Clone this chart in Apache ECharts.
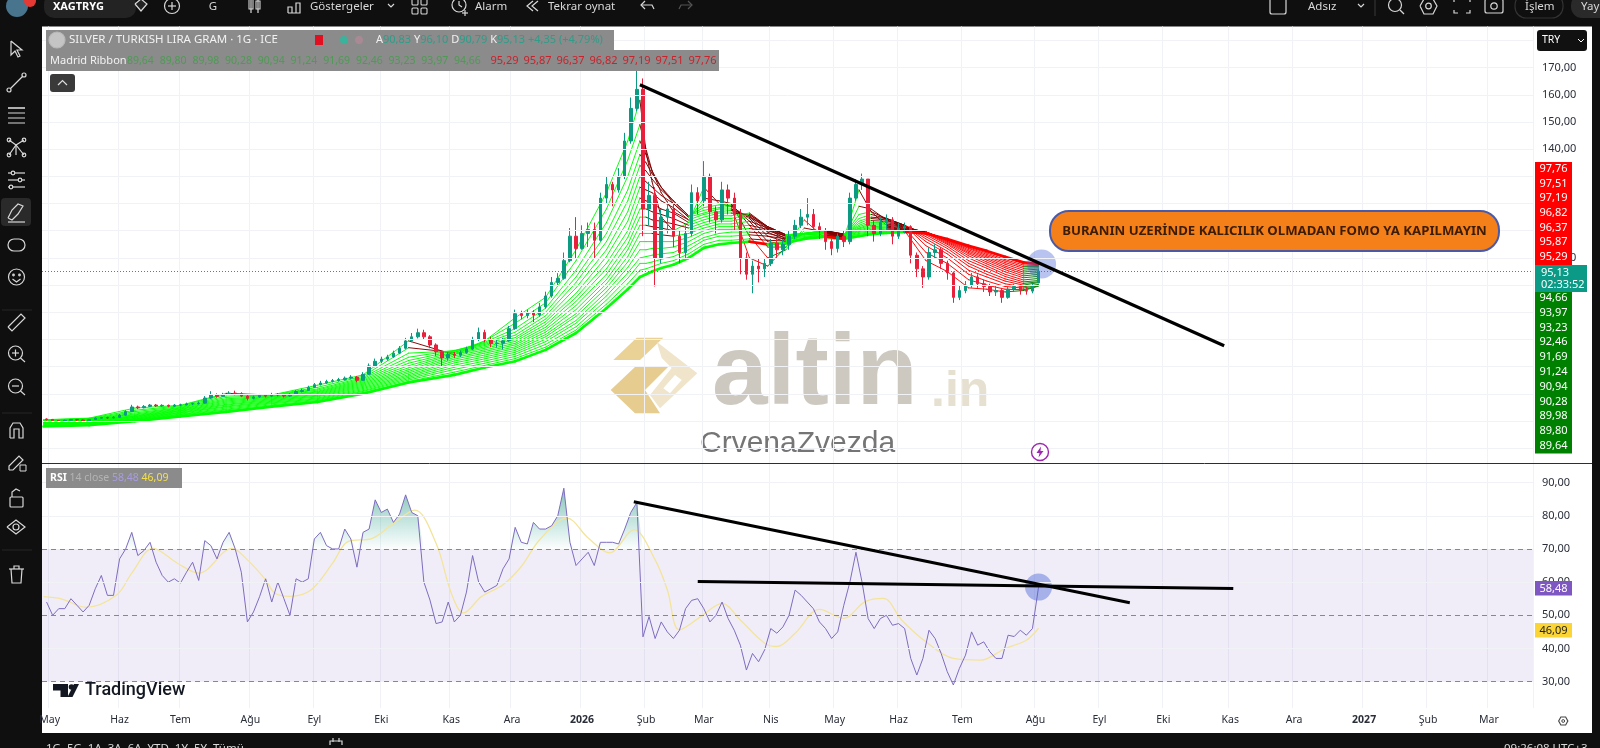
<!DOCTYPE html>
<html><head><meta charset="utf-8">
<style>html,body{margin:0;padding:0;background:#0f0f0f;overflow:hidden}#c{width:1600px;height:748px}</style>
<script src="https://cdn.jsdelivr.net/npm/echarts@6/dist/echarts.min.js"></script></head>
<body><div id="c"></div><script>
const monthBars=[2,25,45,68,89,111,134,154,177,198,217,239,260,281,302,326,347,368,390,411,434,455,475];
const monthLabels=['May','Haz','Tem','Ağu','Eyl','Eki','Kas','Ara','2026','Şub','Mar','Nis','May','Haz','Tem','Ağu','Eyl','Eki','Kas','Ara','2027','Şub','Mar'];
const priceLabelTicks=[170,160,150,140,100];
const priceGridTicks=[180,170,160,150,140,130,120,110,100,90,80,70,60,50,40,30];
const rsiTicks=[90,80,70,60,50,40,30];
const opens=[40.8,40.6,40.2,40.0,40.3,40.6,40.4,40.1,40.6,41.1,41.3,41.2,41.4,42.2,43.5,45.2,44.9,45.4,45.9,45.6,45.8,45.5,45.9,46.0,46.3,46.4,46.6,48.5,49.6,49.1,49.8,50.3,50.1,49.2,48.4,48.9,49.5,49.2,49.8,49.6,49.2,49.8,50.9,51.3,52.4,53.4,54.0,54.6,54.9,55.3,55.8,56.2,55.0,57.2,60.3,62.0,62.8,63.6,65.0,66.8,69.5,71.0,72.5,71.0,68.0,65.5,63.2,64.5,64.2,65.2,66.5,70.0,72.6,70.0,68.5,68.6,69.5,74.0,79.5,78.8,79.8,79.0,82.0,86.0,91.0,92.5,99.0,108,103.5,109,110.5,106.5,122,127,125,130,143,155,162,118,123,100,115,118,108,102,109,124,121,130,117,114,125,122,116,100,94,97,96,98,105.5,103,105,108,112,115,116,111.5,110,106,103.5,108,106,122,127,129,112,109,113,114,108,111,111.5,101,96,93,102,103,98,94.5,85.5,88,90,93,90.5,89.5,87.5,88,85.5,88.5,89.5,88,87.8,90.83];
const closes=[40.6,40.2,40.0,40.3,40.6,40.4,40.1,40.6,41.1,41.3,41.2,41.4,42.2,43.5,45.2,44.9,45.4,45.9,45.6,45.8,45.5,45.9,46.0,46.3,46.4,46.6,48.5,49.6,49.1,49.8,50.3,50.1,49.2,48.4,48.9,49.5,49.2,49.8,49.6,49.2,49.8,50.9,51.3,52.4,53.4,54.0,54.6,54.9,55.3,55.8,56.2,55.0,57.2,60.3,62.0,62.8,63.6,65.0,66.8,69.5,71.0,72.5,71.0,68.0,65.5,63.2,64.5,64.2,65.2,66.5,70.0,72.6,70.0,68.5,68.6,69.5,74.0,79.5,78.8,79.8,79.0,82.0,86.0,91.0,92.5,99.0,108,103.5,109,110.5,106.5,122,127,125,130,143,155,162,118,123,100,115,118,108,102,109,124,121,130,117,114,125,122,116,100,94,97,96,98,105.5,103,105,108,112,115,116,111.5,110,106,103.5,108,106,122,127,129,112,109,113,114,108,111,111.5,101,96,93,102,103,98,94.5,85.5,88,90,93,90.5,89.5,87.5,88,85.5,88.5,89.5,88,87.8,89.5,95.13];
const lows=[40.2,39.9,39.8,39.9,40.1,40.1,39.9,40.0,40.5,40.9,40.9,41.0,41.3,42.0,43.4,44.4,44.7,45.2,45.2,45.3,45.1,45.2,45.5,45.8,45.9,46.1,46.4,48.2,48.6,48.9,49.6,49.5,48.8,47.6,48.0,48.6,48.7,48.9,49.1,48.7,48.9,49.6,50.5,51.1,52.2,53.1,53.7,54.2,54.5,54.9,55.4,54.3,54.8,57.0,59.8,61.3,62.2,63.3,64.6,66.4,69.0,70.4,70.0,66.8,64.0,60.0,62.2,63.2,63.6,64.8,66.2,69.4,69.0,67.2,67.0,66.4,69.2,73.6,77.4,77.8,76.4,78.4,81.4,85.4,90.0,92.0,98.4,100,103,104,100,106,120,119,124,129,142,154,108,112,89.5,98,109,104,98,100,108,116,119,113,109,113,116,110,94,92,87,91,93,97,100,101,103,107,111,112,110,107,103,101,102,104,105,121,125,108,106,108,110,105,107,109,98,93,89,92,100,96,92,83.5,84.5,87,89,89,87.5,86,86,83.5,85,87.5,86.5,86.5,87,90.79];
const highs=[41.0,40.8,40.4,40.5,40.8,40.8,40.6,40.8,41.4,41.6,41.6,41.8,42.6,44.0,46.0,45.7,45.9,46.3,46.3,46.2,46.1,46.3,46.4,46.8,46.8,47.2,49.2,51.0,50.2,50.4,51.0,51.2,50.6,49.6,49.4,50.0,49.9,50.4,50.3,49.9,50.3,51.4,51.9,53.0,54.0,54.8,55.2,55.5,55.9,56.4,56.9,56.6,58.0,61.2,63.0,63.7,64.4,65.9,67.6,70.6,72.4,74.0,73.6,71.6,68.6,66.0,65.4,65.4,66.0,67.4,71.0,74.4,73.6,71.0,70.0,70.6,75.0,81.0,80.6,81.0,80.8,83.4,87.6,93.0,94.4,102,111,115,112,113,113,124,130,128,133,146,159,169,166,128,126,118,121,120,110,112,127,126,135.6,131,119,128,127,124,118,102,99,100,100,107,107,107,110,114,118,122,118,113,111,107,109,110,124,129,131,129,114,115,116,115,113,113,112,102,97,104,105,104,99,95,90,91.5,94.5,94,92,90.5,90,89,90,90.5,90,89.5,90.5,96.10];
const rsiValues=[54,50,52,52,55,53,51,53,58,62,56,56,67,70,75,68,69.5,72,66,62,60,61,59.7,63,66,60.5,72.5,71,67,72,75,70,63,48,51,55.6,61,54,60,55,50,61,60,61,73,75,71,70,70,76,73,64.5,75,76,84.8,81,82,78,80.5,86.3,81,80,60,54.6,47.5,48,54,48,50,57,68,60,57,58,59,64,67,76.5,72,71.5,78,76,76,77,80,88.3,72,65,67,69,65,72,72,72,71.5,76,81,84,43.5,49.6,43,48,45,43,45.5,52,54.5,55,52,48,50,54,49,45.5,41,33.5,38.5,36,39.6,46,44.6,46.5,50,57.6,56,54,52,48,46,43,45,53,60,69,60,49,46,49,50,47,47.5,46,37,32,37,45.5,43,38.5,33,29,34,38,45,41,42,39,37,37,44,43.6,45.5,44,46,58.48];
const rsiMaBars=[0,6,14,24,29,36,44,51,62,67,73,76,81,88,95,100,108,115,122,129,134,138,144,151,157,163,172,179,186,194,201,205,209,216,223,229,237,241,247,255,263,270,276,282,290,299,308,316,323,327];
const rsiMaValues=[55.6,54.9,52.4,56.1,62.7,70.2,65.7,62.7,70.2,66.7,60.7,56.7,55.7,57.7,65.7,72.2,73.2,77.7,81.7,71.7,56.7,50.7,55.7,59.2,64.7,72.7,79.3,73.3,68.8,75.8,66.7,57.7,45.6,49.6,53.6,48.6,41.6,40.6,44.6,51.8,49.1,54.1,55.1,48.6,42,37,36.5,40,42.5,46.09];
const ribbonBars=[0,15,30,45,60,75,90,105,120,135,145,155,165,175,185,192,196,198,200,203,207,212,217,222,226,232,238,244,250,257,263,268,272,277,283,290,297,304,310,316,322,327];
const ribbonRows=[
[40.5,40.4,40.3,40.2,40.1,40,39.9,39.8,39.7,39.5,39.3,39.2,39,38.8,38.6,38.4,38.2,38],
[41.1,41,40.8,40.7,40.6,40.5,40.3,40.2,40.1,39.9,39.8,39.6,39.4,39.3,39.1,38.9,38.7,38.5],
[44.8,44,43.5,43,42.6,42.3,42,41.8,41.6,41.4,41.2,41,40.8,40.7,40.5,40.3,40.2,40],
[45.8,45.6,45.3,45,44.8,44.5,44.3,44,43.8,43.6,43.3,43.1,42.9,42.6,42.4,42.2,41.9,41.7],
[50.2,49.8,49.2,48.7,48.2,47.8,47.4,47,46.6,46.2,45.9,45.5,45.2,44.8,44.4,44.1,43.7,43.4],
[49.6,49.6,49.5,49.4,49.2,49,48.8,48.5,48.2,47.9,47.6,47.3,47,46.7,46.4,46,45.7,45.3],
[53.2,52.4,51.8,51.4,51,50.7,50.4,50.1,49.8,49.5,49.2,48.9,48.5,48.2,47.9,47.6,47.3,47],
[57,56.5,56,55.6,55.2,54.8,54.4,54,53.6,53.2,52.8,52.4,52,51.6,51.2,50.9,50.5,50.1],
[69.5,67,65,63.5,62.3,61.3,60.4,59.6,58.9,58.3,57.7,57.1,56.6,56.1,55.6,55.1,54.6,54.2],
[64.4,65.2,65.8,66,65.8,65.4,65,64.6,64,63.4,62.8,62.1,61.4,60.6,59.8,59,58,57],
[69.5,69.5,69,68.6,68.2,67.8,67.3,66.8,66.2,65.6,65,64.3,63.6,62.9,62.1,61.3,60.5,59.7],
[78,76,74,72.7,71.6,70.7,70,69.3,68.6,68,67.3,66.7,66,65.3,64.6,63.8,63,62],
[85.5,83.5,81.5,80,78.7,77.5,76.5,75.5,74.5,73.6,72.7,71.8,71,70.1,69.2,68.2,67.2,66.2],
[103,99,95.5,93,91,89,87,85.5,84,82.5,81,79.5,78.5,77,76,74.7,73.5,72.4],
[124,118,113,109,106,103,100.5,98,96,94,92,90.5,89,87.5,86,84.5,83,81.5],
[143,136,130,125,121,117,113.5,110,107.5,105,103,100.5,98.5,96.5,94.5,92.5,90.5,88.5],
[158,149,143,138,134,130,126,122,118,115,112,109,106,103,100,98,95.5,93],
[139,140,138,135,132,128,125,121,118,115,112,109,106,103,100.5,98,96,94],
[128,132,132,131,129,126,124,120,117,114,111.5,109,106,103.5,101,98.5,96.8,95],
[115,124,126,126,125,123,121,118,116,113.5,111,108.5,106,103.5,101.5,99.5,98,96.3],
[110,117,120,121,121,120,118.5,116.5,114.5,112.5,110,108,106,104,102,100.5,99,97.5],
[113,114,115,115.5,115.5,115,114,113,112,111,110,109,107.5,106,104.5,103,101.5,100],
[126,122,120,118.5,117.5,116.5,116,115,114,113,112,111,110,109,107.5,106.5,105,103.7],
[120,121,120,119.5,118.5,118,117,116.5,115.5,114.5,113.5,112.5,111.5,110.5,109,108,106.5,105],
[119,120,120,119.5,119,118,117.5,116.5,115.5,114.5,113.5,112.5,111.5,110.5,109.5,108,106.5,105.5],
[100,108,112,113.5,114.5,115,115.5,116,116.5,116,115,113.5,112,110.8,109.5,108.5,107,106],
[97,100,104,106,108,109.5,110.5,111,111.5,111.5,111.5,111,110.5,110,109,108,106.5,105],
[104,103,104,105,106,106.5,107,108,108.5,108.5,108.5,108.5,108,108,107.5,107,106.2,105.5],
[114,111,110,109,109,109,109,109,109,109,109,108.5,108.5,108,107.7,107.4,107.2,107],
[107,109.5,110,110,110,110,110,109.8,109.6,109.4,109.2,109,108.8,108.5,108.3,108.1,108,107.8],
[107,107.5,108,108.3,108.5,108.7,108.8,108.8,108.8,108.7,108.6,108.4,108.2,108,107.8,107.6,107.3,107],
[125,119,116,114.5,113.5,112.7,112,111.5,111,110.7,110.3,110,109.7,109.4,109,108.7,108.3,108],
[117,118,117,116,115,114.5,113.7,113,112.5,112,111.5,111,110.5,110,109.7,109.3,109,108.7],
[112,114,114.5,114.5,114.5,114,113.5,113,112.5,112.2,111.7,111.3,111,110.6,110.2,109.8,109.5,109.2],
[110,111,112,112,112,112,112,111.7,111.5,111.2,111,110.7,110.5,110.3,110,109.9,109.7,109.6],
[99,102,104.5,106,107,107.8,108.5,109,109.3,109.5,109.6,109.6,109.6,109.5,109.4,109.3,109.2,109],
[95,98,100,101.5,102.5,103.5,104.3,105,105.4,105.8,106.1,106.4,106.6,106.7,106.8,106.9,107,107],
[89,92,94,95.5,97,98,99,100,100.8,101.5,102,102.5,103,103.5,103.8,104.1,104.3,104.5],
[88.5,90,91.5,93,94,95,96.2,97,97.8,98.5,99.2,99.8,100.3,100.8,101.3,101.8,102.2,102.6],
[87.5,88.5,89.5,90.5,91.5,92.3,93.2,94,94.9,95.7,96.4,97,97.7,98.3,98.9,99.4,100,100.4],
[88,88.3,88.9,89.4,90,90.6,91.2,91.9,92.7,93.4,94.1,94.8,95.5,96.2,96.8,97.4,97.9,98.4],
[89.64,89.80,89.98,90.28,90.94,91.24,91.69,92.46,93.23,93.97,94.66,95.29,95.87,96.37,96.82,97.19,97.51,97.76]];
const priceTrend=[[196,163.7],[388,67.7]];
const rsiTrendA=[[194,84.2],[357,53.8]];
const rsiTrendB=[[215,60.2],[391,58.1]];
const priceMarker=[[328,97.8]];
const rsiMarker=[[327,58.5]];
const redTags=['97,76','97,51','97,19','96,82','96,37','95,87','95,29'];
const greenTags=['94,66','93,97','93,23','92,46','91,69','91,24','90,94','90,28','89,98','89,80','89,64'];

const UI='"Noto Sans",sans-serif';
const G=[];
function rect(x,y,w,h,fill,o={}){G.push({type:'rect',silent:true,z:o.z??100,shape:{x,y,width:w,height:h,r:o.r||0},style:{fill,stroke:o.stroke,lineWidth:o.lw||0}})}
function txt(x,y,text,size,fill,o={}){G.push({type:'text',silent:true,z:o.z??101,style:{x,y,text,fill,font:`${o.w||'normal'} ${size}px ${o.f||UI}`,textAlign:o.a||'left',align:o.a||'left',textVerticalAlign:o.v||'middle',verticalAlign:o.v||'middle',rich:o.rich}})}
function poly(pts,stroke,lw=1.2,z=102){G.push({type:'polyline',silent:true,z,shape:{points:pts},style:{stroke,fill:'none',lineWidth:lw}})}
function pgon(pts,fill,z=102){G.push({type:'polygon',silent:true,z,shape:{points:pts},style:{fill}})}
function circ(cx,cy,r,stroke,fill,z=102,lw=1.2){G.push({type:'circle',silent:true,z,shape:{cx,cy,r},style:{stroke,fill:fill||'none',lineWidth:lw}})}
// panel
rect(42,26.5,1550,706.5,'#ffffff',{z:-5});
G.push({type:'line',silent:true,z:50,shape:{x1:42,y1:463.5,x2:1592,y2:463.5},style:{stroke:'#2e2e2e',lineWidth:1}});
// watermark
pgon([[613.3,360],[636.7,337.7],[663.3,337.7],[640,360]],'#ead196',-2);
pgon([[610.7,390],[635,367],[668,367],[645,390],[660,413.3],[635,413.3]],'#e6cc8e',-2);
pgon([[656.7,341.7],[697.3,373.3],[660,408.3],[650,395],[671.7,368],[661.7,358]],'#f0e5ca',-2);
pgon([[663.3,388.3],[675,375],[681.7,380],[670,393.3]],'#ffffff',-2);
txt(712,376,'altin',100,'#cdc9c0',{w:'bold',f:'"Liberation Sans"',z:-2});
txt(931,392,'.in',50,'#e6e0d0',{w:'bold',f:'"Liberation Sans"',z:-2});
txt(700,444,'CrvenaZvezda',30,'#757575',{f:'"Liberation Sans"',z:-2});
// legend bars
rect(46,30,568,20,'#8b8b8b');rect(46,50,673,21,'#8b8b8b');
circ(57,40,8,'#b8b8b8','#c4c4c4');
txt(69,40,'SILVER / TURKISH LIRA GRAM · 1G · ICE',11.5,'#f2f2f2');
rect(315,35,8,10,'#e01020');circ(344,40,4,null,'#3bb39c');circ(359,40,4,null,'#a98a94');
txt(376,40,'{w|A}{t|90,83} {w|Y}{t|96,10} {w|D}{t|90,79} {w|K}{t|95,13 +4,35 (+4,79%)}',11,'#fff',{rich:{w:{fill:'#f0f0f0',font:'11px '+UI},t:{fill:'#2f9c88',font:'11px '+UI}}});
txt(50,61,'Madrid Ribbon',11,'#f2f2f2');
[...greenTags].reverse().forEach((t,i)=>txt(127+i*32.7,61,t,10.5,'#4e9a54'));
[...redTags].reverse().forEach((t,i)=>txt(490.5+i*33,61,t,11,'#c9222c'));
rect(50,74,25,18,'#3a3a3a',{r:3});poly([[58,85],[62.5,80.5],[67,85]],'#ddd');
rect(1537,30,50,21,'#111',{r:3});txt(1542,40.5,'TRY',10.5,'#fff');poly([[1578,39],[1581,42],[1584,39]],'#fff',1);
// callout
rect(1050,211,449,40,'#f5801a',{r:19,stroke:'#4a5aa8',lw:2,z:90});
txt(1274.5,231,'BURANIN UZERİNDE KALICILIK OLMADAN FOMO YA KAPILMAYIN',13.2,'#3d1c04',{w:'bold',a:'center'});
// price tags
rect(1535,162,37,103,'#ff0000');
redTags.forEach((t,i)=>txt(1553.5,168.7+i*14.7,t,11,'#ffffff',{a:'center'}));
rect(1535,265,52,27,'#0b9a85');txt(1541,272.5,'95,13',11,'#fff');txt(1541,284.5,'02:33:52',11,'#fff');
rect(1535,292,37,161.5,'#008000');
greenTags.forEach((t,i)=>txt(1553.5,298+i*14.77,t,11,'#ffffff',{a:'center'}));
rect(1535,581,37,14.5,'#7e57c2');txt(1553.5,588.5,'58,48',11,'#fff',{a:'center'});
rect(1535,623,37,14.5,'#fbd535');txt(1553.5,630.5,'46,09',11,'#222',{a:'center'});
// rsi legend
rect(46,468,136,20,'#8b8b8b');
txt(50,478,'{a|RSI} {b|14 close} {c|58,48} {d|46,09}',10.5,'#fff',{rich:{a:{fill:'#fff',font:'bold 10.5px '+UI},b:{fill:'#b4b4b4',font:'10.5px '+UI},c:{fill:'#a99ce0',font:'10.5px '+UI},d:{fill:'#f5e04a',font:'10.5px '+UI}}});
// TradingView
pgon([[53,684],[68,684],[68,697],[60.5,697],[60.5,690.5],[53,690.5]],'#131722');circ(71.5,687,2.8,null,'#131722');pgon([[67.5,697],[74,684],[79,684],[72.5,697]],'#131722');
txt(85,690,'TradingView',18,'#131722',{w:'500',f:'Roboto'});
// flash
circ(1040,452,8.5,'#9c27b0','#fff',60,1.4);pgon([[1041,446.5],[1036.5,453],[1039.5,453],[1038.5,457.5],[1043.5,451],[1040.5,451]],'#9c27b0',61);
// settings hex
pgon([[1558,721],[1560.5,716.5],[1566,716.5],[1568.5,721],[1566,725.5],[1560.5,725.5]],'#444',60);pgon([[1559.3,721],[1561.2,717.6],[1565.3,717.6],[1567.2,721],[1565.3,724.4],[1561.2,724.4]],'#fff',61);circ(1563.2,721,1.4,'#444','#fff',62,1);
// top toolbar
const W='#d8d8d8';
circ(17,6,11,null,'#48748e');txt(17,6,'P',13,'#fff',{a:'center',w:'bold'});circ(30,1,6,null,'#e53935');
rect(44,-6,92,24,'#232323',{r:10});txt(53,6.5,'XAGTRYG',11,'#fff',{w:'bold'});
pgon([[135,4],[141,-1],[147,4],[141,11]],'#232323');poly([[135,4],[141,-1],[147,4],[141,11],[135,4]],W);circ(172,6,7.5,W);poly([[168,6],[176,6]],W);poly([[172,2],[172,10]],W);
txt(213,6.5,'G',11.5,W,{a:'center'});
rect(249,-2,4,11,'none',{stroke:W,lw:1.1});poly([[251,-4],[251,13]],W);rect(256,1,4,8,'none',{stroke:W,lw:1.1});poly([[258,-2],[258,13]],W);
poly([[288,13],[288,7],[292,7],[292,13],[296,13],[296,3],[300,3],[300,13],[288,13]],W);
txt(310,6.5,'Göstergeler',11.5,W);poly([[388,4],[391,7],[394,4]],W);
[[412,-1],[421,-1],[412,8],[421,8]].forEach(p=>rect(p[0],p[1],6,6,'none',{stroke:W,lw:1.1,r:1}));
circ(459,5,7,W);poly([[459,1],[459,5],[462,7]],W);poly([[462,13],[468,13]],W);poly([[465,10],[465,16]],W);txt(475,6.5,'Alarm',11.5,W);
poly([[533,1],[527,6],[533,11]],W);poly([[538,1],[532,6],[538,11]],W);txt(548,6.5,'Tekrar oynat',11.5,W);
poly([[645,1],[641,5],[645,9]],W);poly([[641,5],[652,5],[654,9]],W);poly([[688,1],[692,5],[688,9]],'#555');poly([[692,5],[681,5],[679,9]],'#555');
rect(1270,-4,16,18,'none',{stroke:W,lw:1.2,r:2});txt(1308,6.5,'Adsız',11.5,W);poly([[1358,4],[1361,7],[1364,4]],W);
poly([[1375,-2],[1375,16]],'#333');
circ(1395,5,6.5,W);poly([[1400,10],[1404,14]],W);
pgon([[1420,6],[1424,-1],[1433,-1],[1437,6],[1433,14],[1424,14]],'#0f0f0f');poly([[1420,6],[1424,-1],[1433,-1],[1437,6],[1433,14],[1424,14],[1420,6]],W);circ(1428.5,6,2.8,W);
poly([[1454,2],[1454,-1],[1458,-1]],W);poly([[1466,-1],[1470,-1],[1470,2]],W);poly([[1454,10],[1454,13],[1458,13]],W);poly([[1470,10],[1470,13],[1466,13]],W);
rect(1485,-1,18,14,'none',{stroke:W,lw:1.2,r:2});circ(1494,6,3.2,W);
rect(1515,-6,48,24,'none',{stroke:'#333',lw:1.2,r:11});txt(1525,6.5,'İşlem',11.5,W);
rect(1571,-6,40,24,'#2a2a2a',{r:11});txt(1581,6.5,'Yay',11.5,W);
// left toolbar
poly([[11,41],[11,55],[15,51],[18,57],[20,56],[17,50],[22,50],[11,41]],W);
poly([[9,90],[24,75]],W);circ(9,90,2,W,'#0f0f0f');circ(24,75,2,W,'#0f0f0f');
[108,113,118,123].forEach((y,i)=>poly([[8,y],[25,y]],W,i==0?1.6:1));
poly([[9,155],[16,145],[24,155]],W);poly([[9,140],[16,145],[24,140]],W);poly([[16,145],[16,155]],W);circ(9,140,1.8,W);circ(24,140,1.8,W);circ(24,155,1.8,W);circ(9,155,1.8,W);
poly([[8,173],[25,173]],W);poly([[8,180],[25,180]],W);poly([[8,187],[25,187]],W);circ(13,173,1.8,W,'#0f0f0f');circ(20,180,1.8,W,'#0f0f0f');circ(11,187,1.8,W,'#0f0f0f');
rect(1,198,30,28,'#2a2a2a',{r:4});poly([[8,218],[12,210],[18,204],[23,206],[18,214],[12,220],[8,218]],W);poly([[8,222],[25,222]],W);
rect(8,239,17,12,'none',{stroke:W,lw:1.2,r:6});
circ(16.5,277,8,W);circ(13.5,275,.8,W);circ(19.5,275,.8,W);poly([[12.5,279],[16.5,282],[20.5,279]],W);
poly([[8,327],[21,314],[25,318],[12,331],[8,327]],W);
circ(15.5,353,7,W);poly([[20.5,358],[25,362]],W);poly([[12,353],[19,353]],W);poly([[15.5,349.5],[15.5,356.5]],W);
circ(15.5,386,7,W);poly([[20.5,391],[25,395]],W);poly([[12,386],[19,386]],W);
poly([[10,438],[10,428],[13,423],[20,423],[23,428],[23,438],[19,438],[19,429],[14,429],[14,438],[10,438]],W);
poly([[9,470],[9,466],[19,456],[23,460],[13,470],[9,470]],W);rect(20,465,6,6,'none',{stroke:W,lw:1});
rect(10,497,13,10,'none',{stroke:W,lw:1.2,r:1});poly([[12,497],[12,492],[16,489],[20,491]],W);
circ(16,527,3,W);poly([[7,527],[16,520],[25,527],[16,534],[7,527]],W);
poly([[9,569],[24,569]],W);poly([[11,569],[12,583],[21,583],[22,569]],W);poly([[14,569],[14,566],[19,566],[19,569]],W);
[[2,310,30],[2,413,30],[2,550,30]].forEach(s=>poly([[s[0],s[1]],[s[0]+s[2],s[1]]],'#262626',1));
// bottom bar
txt(46,749,'1G  5G  1A  3A  6A  YTD  1Y  5Y  Tümü',11.5,W);
poly([[330,745],[330,741],[342,741],[342,745]],W);poly([[333,738],[333,742]],W);poly([[339,738],[339,742]],W);
txt(1504,749,'09:26:08 UTC+3',11.5,W);

// derived plotting tables (all values come from the arrays above)
const bars=Array.from({length:490},(_,i)=>'b'+i);
const monthMap=new Map(monthBars.map((b,i)=>[b,monthLabels[i]]));
const candleData=[];
closes.forEach((c,k)=>{candleData.push(['-','-','-','-']);candleData.push([opens[k],c,lows[k],highs[k]]);});
const rsiLine=rsiValues.map((v,k)=>[2*k+1,v]);
const rsiOver=rsiValues.map((v,k)=>[2*k+1,Math.max(v,70)]);
const rsiMa=rsiMaBars.map((b,i)=>[b,rsiMaValues[i]]);
const ribbonColors=['#00ff00','#800000','#ff0000','#008000'];
const segs=[];
for(let r=1;r<ribbonRows.length;r++){const slow=ribbonRows[r][17];
 for(let i=0;i<18;i++){const a=ribbonRows[r-1][i],b=ribbonRows[r][i];
  const col=b>=a?(b>=slow?0:3):(b>slow?1:2);
  segs.push([ribbonBars[r-1],a,ribbonBars[r],b,i,col]);}}
const fmt=v=>Number(v).toFixed(2).replace('.',',');
const vLine={show:true,interval:i=>monthMap.has(i),lineStyle:{color:'#f0f2f6',width:1}};
const grid1={left:42,top:26.5,width:1491,height:436.5};
const grid2={left:42,top:464,width:1491,height:244};
const gl=(v,c='#f0f2f6')=>({yAxis:v,lineStyle:{color:c,width:1,type:'solid'}});
const dash=v=>({yAxis:v,lineStyle:{color:'#8d7fa8',width:1,type:[5,4]}});
const option={
 animation:false,backgroundColor:'#0f0f0f',graphic:{elements:G},
 grid:[grid1,grid2],
 xAxis:[
  {gridIndex:0,type:'category',data:bars,axisLine:{show:false},axisTick:{show:false},axisLabel:{show:false},splitLine:vLine},
  {gridIndex:1,type:'category',data:bars,axisLine:{show:false},axisTick:{show:false},splitLine:vLine,
   axisLabel:{interval:i=>monthMap.has(i),margin:7,fontFamily:UI,fontSize:10.5,color:'#2a2e39',hideOverlap:false,
    formatter:(v,i)=>{const s=monthMap.get(i)||'';return /^\d/.test(s)?`{b|${s}}`:s;},rich:{b:{fontWeight:'bold',fontFamily:UI,fontSize:10.5,color:'#2a2e39'}}}}],
 yAxis:[
  {gridIndex:0,position:'right',min:24.6,max:185.1,axisLine:{show:false},axisTick:{show:false},splitLine:{show:false},
   axisLabel:{customValues:priceLabelTicks,margin:9,align:'left',fontFamily:UI,fontSize:11,color:'#2a2e39',formatter:fmt}},
  {gridIndex:1,position:'right',min:22.06,max:95.6,axisLine:{show:false},axisTick:{show:false},splitLine:{show:false},
   axisLabel:{customValues:rsiTicks,margin:9,align:'left',fontFamily:UI,fontSize:11,color:'#2a2e39',formatter:fmt}}],
 series:[
  {type:'line',xAxisIndex:0,yAxisIndex:0,z:1,silent:true,data:[[0,60]],showSymbol:false,lineStyle:{width:0},
   markLine:{silent:true,symbol:'none',label:{show:false},animation:false,data:priceGridTicks.map(v=>gl(v))}},
  {type:'line',xAxisIndex:1,yAxisIndex:1,z:1,silent:true,data:[[0,60]],showSymbol:false,lineStyle:{width:0},
   markArea:{silent:true,itemStyle:{color:'rgba(126,87,194,0.11)'},data:[[{yAxis:70},{yAxis:30}]]},
   markLine:{silent:true,symbol:'none',label:{show:false},animation:false,data:[...rsiTicks.filter(v=>![70,50,30].includes(v)).map(v=>gl(v)),dash(70),dash(50),dash(30)]}},
  {type:'custom',xAxisIndex:0,yAxisIndex:0,z:2,silent:true,data:segs,encode:{x:[0,2],y:[1,3]},
   renderItem:(p,api)=>{const a=api.coord([api.value(0),api.value(1)]),b=api.coord([api.value(2),api.value(3)]);
    return {type:'line',shape:{x1:a[0],y1:a[1],x2:b[0],y2:b[1]},style:{stroke:ribbonColors[api.value(5)],lineWidth:api.value(4)==17?2.6:0.95,lineCap:'round'}};}},
  {type:'candlestick',xAxisIndex:0,yAxisIndex:0,z:3,silent:true,barWidth:3,data:candleData,
   itemStyle:{color:'#0c9a82',color0:'#e8203c',borderColor:'#0c9a82',borderColor0:'#e8203c',borderWidth:1},
   markLine:{silent:true,symbol:'none',label:{show:false},animation:false,data:[{yAxis:95.13,lineStyle:{color:'#5f7f78',width:1,type:[1,2]}}]}},
  {type:'scatter',xAxisIndex:0,yAxisIndex:0,z:4,silent:true,symbolSize:29,data:priceMarker,itemStyle:{color:'rgba(70,100,215,0.48)'}},
  {type:'line',xAxisIndex:0,yAxisIndex:0,z:5,silent:true,data:priceTrend,showSymbol:false,lineStyle:{color:'#000',width:3.2}},
  {type:'line',xAxisIndex:1,yAxisIndex:1,z:2,silent:true,data:rsiOver,showSymbol:false,lineStyle:{width:0},
   areaStyle:{origin:70,color:{type:'linear',x:0,y:0,x2:0,y2:1,colorStops:[{offset:0,color:'rgba(8,130,105,0.7)'},{offset:1,color:'rgba(8,153,129,0.02)'}]}}},
  {type:'line',xAxisIndex:1,yAxisIndex:1,z:3,silent:true,data:rsiMa,showSymbol:false,smooth:0.35,lineStyle:{color:'#f3e49c',width:1.3}},
  {type:'line',xAxisIndex:1,yAxisIndex:1,z:3,silent:true,data:rsiLine,showSymbol:false,lineStyle:{color:'#7e6cc0',width:1}},
  {type:'scatter',xAxisIndex:1,yAxisIndex:1,z:4,silent:true,symbolSize:27,data:rsiMarker,itemStyle:{color:'rgba(70,100,215,0.55)'}},
  {type:'line',xAxisIndex:1,yAxisIndex:1,z:5,silent:true,data:rsiTrendA,showSymbol:false,lineStyle:{color:'#000',width:3}},
  {type:'line',xAxisIndex:1,yAxisIndex:1,z:5,silent:true,data:rsiTrendB,showSymbol:false,lineStyle:{color:'#000',width:3}}
 ]};
echarts.init(document.getElementById('c'),null,{renderer:'canvas'}).setOption(option);
</script></body></html>
